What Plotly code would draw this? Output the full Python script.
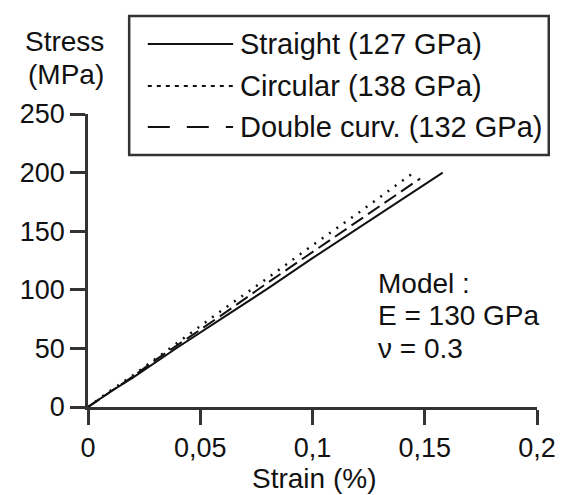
import plotly.graph_objects as go

# data (strain in %, stress in MPa)
straight_strain = [0, 0.01, 0.02, 0.03, 0.04, 0.06, 0.08, 0.10, 0.12, 0.14, 0.158]
straight_stress = [0, 13, 25, 38, 51, 76, 101, 127, 152, 177, 200]

circular_strain = [0, 0.01, 0.02, 0.03, 0.04, 0.06, 0.08, 0.10, 0.12, 0.145]
circular_stress = [0, 14, 27, 41, 55, 83, 110, 138, 165, 200]

double_strain = [0, 0.01, 0.02, 0.03, 0.04, 0.06, 0.08, 0.10, 0.12, 0.148]
double_stress = [0, 13, 26, 40, 53, 79, 106, 132, 158, 195]

x_ticks = [0, 0.05, 0.1, 0.15, 0.2]
x_ticktext = ["0", "0,05", "0,1", "0,15", "0,2"]
y_ticks = [0, 50, 100, 150, 200, 250]

legend_labels = ["Straight (127 GPa)", "Circular (138 GPa)", "Double curv. (132 GPa)"]
model_text = ["Model :", "E = 130 GPa", "\u03bd = 0.3"]

# the page body has an 8px margin, so the figure is drawn 8px in from the corner
OFF = 8
W, H = 568 - OFF, 495 - OFF
L, R, T, B = 87 - OFF, 23, 114 - OFF, 88
FONT = "Liberation Sans"
FS = 27
INK = "#111111"
AX = "#333333"


def px(x):
    # window pixel -> paper x
    return (x - OFF - L) / (W - L - R)


def py(y):
    # window pixel -> paper y
    return (H - B - (y - OFF)) / (H - T - B)


fig = go.Figure()
styles = [dict(dash="solid", width=2),
          dict(dash="2px,7px", width=2.5),
          dict(dash="14px,6px", width=2)]
series = [(straight_strain, straight_stress), (circular_strain, circular_stress),
          (double_strain, double_stress)]
for (xs, ys), st, name in zip(series, styles, legend_labels):
    fig.add_trace(go.Scatter(x=xs, y=ys, mode="lines", name=name,
                             line=dict(color=INK, **st), showlegend=False))

# hand-drawn legend box like the original
fig.add_shape(type="rect", xref="paper", yref="paper",
              x0=px(129), x1=px(557), y0=py(155), y1=py(16),
              line=dict(color=AX, width=2.5), fillcolor="white", layer="above")
leg_dash = ["solid", "4px,5px", "22px,17px"]
rows = [44, 86, 127]
for lab, d, ry in zip(legend_labels, leg_dash, rows):
    fig.add_shape(type="line", xref="paper", yref="paper",
                  x0=px(148), x1=px(235), y0=py(ry), y1=py(ry),
                  line=dict(color=INK, width=2, dash=d), layer="above")
    fig.add_annotation(xref="paper", yref="paper", x=px(240), y=py(ry),
                       text=lab, showarrow=False, xanchor="left", yanchor="middle",
                       font=dict(family=FONT, size=29, color=INK))

for txt, ty in zip(model_text, [283, 315, 348]):
    fig.add_annotation(xref="paper", yref="paper", x=px(381), y=py(ty),
                       text=txt, showarrow=False, xanchor="left", yanchor="middle",
                       font=dict(family=FONT, size=28, color=INK))

for txt, ty in zip(["Stress", "(MPa)"], [42, 74]):
    fig.add_annotation(xref="paper", yref="paper", x=px(105), y=py(ty),
                       text=txt, showarrow=False, xanchor="right",
                       yanchor="middle", font=dict(family=FONT, size=28, color=INK))

# x-axis title placed by hand so it sits tight against the bottom edge
fig.add_annotation(xref="paper", yref="paper", x=px(318), y=py(478),
                   text="Strain (%)", showarrow=False, xanchor="center",
                   yanchor="middle", font=dict(family=FONT, size=28, color=INK))

fig.update_layout(
    width=W, height=H,
    margin=dict(l=L, r=R, t=T, b=B),
    paper_bgcolor="white", plot_bgcolor="white",
    font=dict(family=FONT, size=FS, color=INK),
    xaxis=dict(range=[0, 0.2], tickvals=x_ticks, ticktext=x_ticktext,
               showgrid=False, zeroline=False, showline=True, linecolor=AX,
               linewidth=2.5, ticks="outside", ticklen=15, tickwidth=2.5,
               tickcolor=AX),
    yaxis=dict(range=[0, 250], tickvals=y_ticks, showgrid=False, zeroline=False,
               showline=True, linecolor=AX, linewidth=2.5, ticks="outside",
               ticklen=15, tickwidth=2.5, tickcolor=AX),
)

fig.write_html("out.html")
